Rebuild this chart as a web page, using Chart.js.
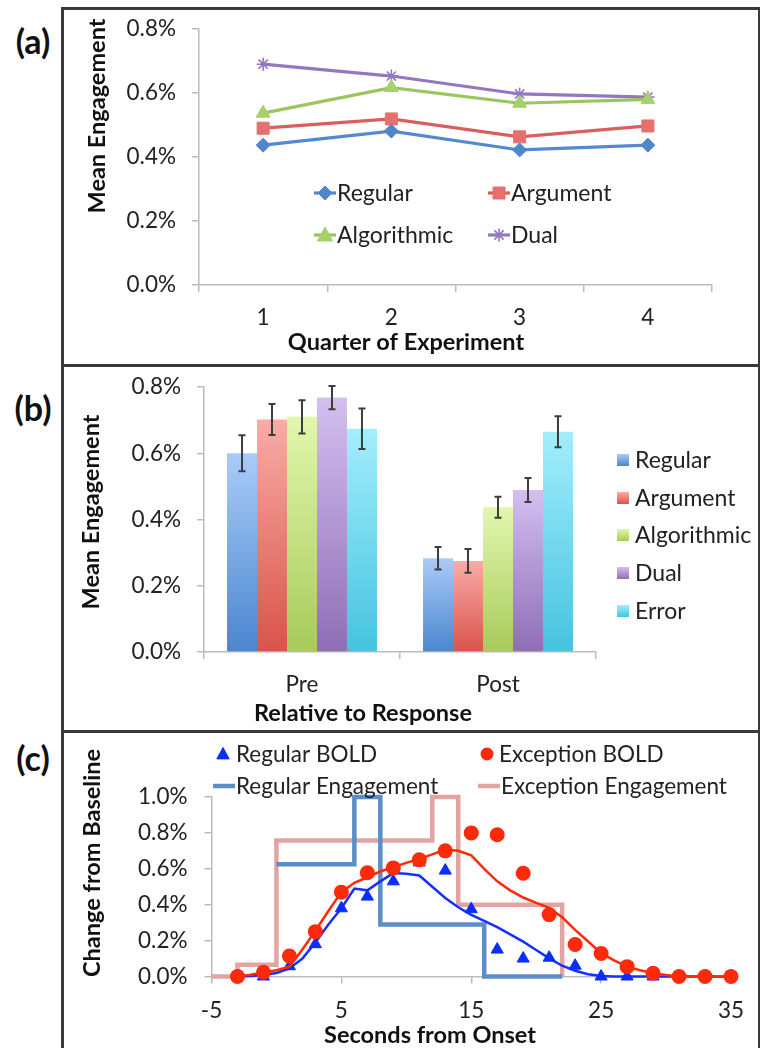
<!DOCTYPE html>
<html>
<head>
<meta charset="utf-8">
<script src="https://cdn.jsdelivr.net/npm/chart.js@4.4.1/dist/chart.umd.min.js"></script>
<style>
  html, body { margin: 0; padding: 0; background: #fff; }
  #page { position: relative; width: 760px; height: 1048px; overflow: hidden; font-family: Lato, sans-serif; }
  .frame { position: absolute; left: 61px; top: 7px; width: 694px; height: 1100px; border: 3px solid #3a3a3a; }
  .divider { position: absolute; left: 61px; width: 700px; height: 3px; background: #3a3a3a; }
  .tag { position: absolute; left: 8px; width: 50px; text-align: center; font: bold 34px Lato, sans-serif; color: #111; line-height: 40px; }
  canvas { position: absolute; }
</style>
</head>
<body>
<div id="page">
  <div class="frame"></div>
  <div class="divider" style="top:364px"></div>
  <div class="divider" style="top:730px"></div>
  <div class="tag" style="top:21px">(a)</div>
  <div class="tag" style="top:388px">(b)</div>
  <div class="tag" style="top:738px">(c)</div>
  <canvas id="chartA" width="692" height="354" style="left:64px;top:10px"></canvas>
  <canvas id="chartB" width="692" height="362" style="left:64px;top:368px"></canvas>
  <canvas id="chartC" width="692" height="314" style="left:64px;top:734px"></canvas>
</div>
<script>
// ---- (a) Mean engagement by quarter of the experiment (%)
const quarters = ['1', '2', '3', '4'];
const aRegular     = [0.437, 0.481, 0.422, 0.437];
const aArgument    = [0.490, 0.519, 0.463, 0.497];
const aAlgorithmic = [0.537, 0.617, 0.568, 0.580];
const aDual        = [0.690, 0.653, 0.597, 0.587];

// ---- (b) Mean engagement relative to the response (%), with error bars
const phases = ['Pre', 'Post'];
const bRegular        = [0.600, 0.283];
const bRegularErr     = [0.054, 0.034];
const bArgument       = [0.702, 0.275];
const bArgumentErr    = [0.047, 0.036];
const bAlgorithmic    = [0.710, 0.437];
const bAlgorithmicErr = [0.050, 0.032];
const bDual           = [0.768, 0.489];
const bDualErr        = [0.035, 0.036];
const bError          = [0.674, 0.665];
const bErrorErr       = [0.061, 0.047];

// ---- (c) BOLD response and engagement, change from baseline (%)
const boldSeconds   = [-3, -1, 1, 3, 5, 7, 9, 11, 13, 15, 17, 19, 21, 23, 25, 27, 29, 31, 33, 35];
const regularBold   = [0, 0, 0.057, 0.18, 0.38, 0.445, 0.53, 0.636, 0.59, 0.375, 0.15, 0.10, 0.105, 0.06, 0, 0, 0, 0, 0, 0];
const exceptionBold = [0, 0.024, 0.114, 0.25, 0.47, 0.578, 0.605, 0.65, 0.70, 0.80, 0.79, 0.575, 0.345, 0.178, 0.128, 0.055, 0.018, 0, 0, 0];
const fitSeconds    = [-3, -2, -1, 0, 1, 2, 3, 4, 5, 6, 7, 8, 9, 10, 11, 12, 13, 14, 15, 16, 17, 18, 19,
                       20, 21, 22, 23, 24, 25, 26, 27, 28, 29, 30, 31, 32, 33, 34, 35];
const regularFit    = [0, 0.003, 0.008, 0.02, 0.045, 0.10, 0.19, 0.29, 0.38, 0.49, 0.48, 0.53, 0.576, 0.572,
                       0.563, 0.50, 0.437, 0.386, 0.343, 0.31, 0.275, 0.235, 0.194, 0.148, 0.101, 0.06, 0.032,
                       0.013, 0.003, 0, 0, 0, 0, 0, 0, 0, 0, 0, 0];
const exceptionFit  = [0, 0.01, 0.022, 0.035, 0.055, 0.15, 0.255, 0.365, 0.47, 0.522, 0.553, 0.585, 0.61, 0.633,
                       0.655, 0.68, 0.707, 0.70, 0.675, 0.60, 0.53, 0.48, 0.44, 0.41, 0.383, 0.33, 0.26, 0.195,
                       0.13, 0.09, 0.055, 0.035, 0.018, 0.008, 0, 0, 0, 0, 0];
const regularEngSeconds   = [0, 6, 8, 16, 22];
const regularEngagement   = [0.625, 1.0, 0.29, 0, 0];
const exceptionEngSeconds = [-5, -3, 0, 12, 14, 22];
const exceptionEngagement = [0, 0.065, 0.757, 1.0, 0.40, 0];

// ---------------------------------------------------------------------------
const FONT = 'Lato, "Open Sans", sans-serif';
const TEXT = '#222';
const AXIS = '#bcbcbc';
Chart.defaults.font.family = FONT;
Chart.defaults.color = TEXT;
Chart.defaults.animation = false;
Chart.defaults.events = [];

const pct = v => v.toFixed(1) + '%';
const toPoints = (xs, ys) => xs.map((x, i) => ({ x, y: ys[i] }));

// marker shapes shared by the plotted points and the legends
function drawMarker(c, shape, x, y, r, fill, stroke, lw) {
  c.save();
  c.beginPath();
  c.fillStyle = fill; c.strokeStyle = stroke; c.lineWidth = lw || 1;
  if (shape === 'triangle') {
    c.moveTo(x, y - r); c.lineTo(x + r * 0.95, y + r * 0.75); c.lineTo(x - r * 0.95, y + r * 0.75); c.closePath();
    c.fill(); c.stroke();
  } else if (shape === 'circle') {
    c.arc(x, y, r, 0, Math.PI * 2); c.fill();
  } else if (shape === 'rectRot') {
    c.moveTo(x, y - r); c.lineTo(x + r, y); c.lineTo(x, y + r); c.lineTo(x - r, y); c.closePath();
    c.fill(); c.stroke();
  } else if (shape === 'rect') {
    const s = r * Math.SQRT1_2;
    c.rect(x - s, y - s, 2 * s, 2 * s); c.fill(); c.stroke();
  } else if (shape === 'star') {
    const d = r * Math.SQRT1_2;
    c.moveTo(x - d, y - d); c.lineTo(x + d, y + d);
    c.moveTo(x + d, y - d); c.lineTo(x - d, y + d);
    c.moveTo(x, y - r); c.lineTo(x, y + r);
    c.moveTo(x - r, y); c.lineTo(x + r, y);
    c.stroke();
  }
  c.restore();
}

// free text (axis titles) placed on the canvas
const panelText = {
  id: 'panelText',
  afterDraw(chart, args, opts) {
    const c = chart.ctx;
    (opts.items || []).forEach(t => {
      c.save();
      c.font = t.font; c.fillStyle = t.color || '#111';
      c.textAlign = 'center'; c.textBaseline = 'middle';
      c.translate(t.x, t.y);
      if (t.rot) c.rotate(t.rot);
      c.fillText(t.text, 0, 0);
      c.restore();
    });
  }
};

// legends drawn from each dataset's own label and style
const placedLegend = {
  id: 'placedLegend',
  afterDraw(chart, args, opts) {
    const c = chart.ctx;
    (opts.items || []).forEach(it => {
      const ds = chart.data.datasets[it.dataset];
      if (it.kind === 'lineMarker') {
        c.save(); c.strokeStyle = ds.borderColor; c.lineWidth = ds.borderWidth;
        c.beginPath(); c.moveTo(it.x - 11, it.y); c.lineTo(it.x + 11, it.y); c.stroke(); c.restore();
        drawMarker(c, ds.pointStyle, it.x, it.y, ds.pointRadius, ds.pointBackgroundColor, ds.pointBorderColor, ds.pointBorderWidth);
      } else if (it.kind === 'marker') {
        drawMarker(c, ds.pointStyle, it.x, it.y, it.r, ds.pointBackgroundColor, ds.pointBorderColor, 1);
      } else if (it.kind === 'line') {
        c.save(); c.strokeStyle = ds.borderColor; c.lineWidth = ds.borderWidth;
        c.beginPath(); c.moveTo(it.x - 22, it.y); c.lineTo(it.x, it.y); c.stroke(); c.restore();
      } else if (it.kind === 'box') {
        const g = c.createLinearGradient(0, it.y - 6, 0, it.y + 6);
        g.addColorStop(0, ds.gradTop); g.addColorStop(1, ds.gradBottom);
        c.save(); c.fillStyle = g; c.fillRect(it.x - 6, it.y - 6, 12, 12); c.restore();
      }
      c.save();
      c.font = opts.font; c.fillStyle = TEXT; c.textAlign = 'left'; c.textBaseline = 'middle';
      c.fillText(ds.label, it.tx, it.y + 1);
      c.restore();
    });
  }
};

// error bars on the bars of panel (b)
const errorBars = {
  id: 'errorBars',
  afterDatasetsDraw(chart) {
    const c = chart.ctx, y = chart.scales.y;
    chart.data.datasets.forEach((ds, i) => {
      chart.getDatasetMeta(i).data.forEach((bar, j) => {
        const v = ds.data[j], e = ds.errors[j];
        const yt = y.getPixelForValue(v + e), yb = y.getPixelForValue(v - e);
        c.save();
        c.strokeStyle = '#3d3d3d'; c.lineWidth = 2;
        c.beginPath();
        c.moveTo(bar.x, yt); c.lineTo(bar.x, yb);
        c.moveTo(bar.x - 3.5, yt); c.lineTo(bar.x + 3.5, yt);
        c.moveTo(bar.x - 3.5, yb); c.lineTo(bar.x + 3.5, yb);
        c.stroke();
        c.restore();
      });
    });
  }
};

// fixed scale sizes; label overhang padding removed so the plot area stays put
function fixSize(prop, size) {
  return s => { s[prop] = size; s.paddingTop = 0; s.paddingBottom = 0; s.paddingLeft = 0; s.paddingRight = 0; };
}
function axisStyle(extra) {
  return Object.assign({
    grid: { display: true, drawOnChartArea: false, drawTicks: true, tickLength: 7, color: AXIS, lineWidth: 1.5 },
    border: { display: true, color: AXIS, width: 1.5 }
  }, extra);
}
const tickFont = { size: 22.5, family: FONT };
const titleFont = 'bold 23.5px ' + FONT;
const legendFont = '23px ' + FONT;
const legendFontC = '22.5px ' + FONT;

// ======================= (a) =======================
function lineSet(label, data, line, fill, shape, r) {
  return {
    label, data, borderColor: line, borderWidth: 3.2, pointStyle: shape, pointRadius: r,
    pointBackgroundColor: fill, pointBorderColor: shape === 'star' ? line : fill, pointBorderWidth: shape === 'star' ? 1.6 : 1
  };
}
new Chart(document.getElementById('chartA'), {
  type: 'line',
  data: {
    labels: quarters,
    datasets: [
      lineSet('Regular', aRegular, '#5289d0', '#4f86cc', 'rectRot', 7),
      lineSet('Argument', aArgument, '#d8605c', '#e4716d', 'rect', 8.5),
      lineSet('Algorithmic', aAlgorithmic, '#9bc55d', '#a6d06a', 'triangle', 8),
      lineSet('Dual', aDual, '#9178bf', '#9178bf', 'star', 6.5)
    ]
  },
  options: {
    responsive: false,
    layout: { padding: { top: 19, right: 44, left: 0, bottom: 0 } },
    plugins: {
      legend: { display: false }, tooltip: { enabled: false },
      panelText: { items: [
        { text: 'Mean Engagement', x: 33, y: 106, rot: -Math.PI / 2, font: titleFont },
        { text: 'Quarter of Experiment', x: 342, y: 332, font: titleFont }
      ] },
      placedLegend: { font: legendFont, items: [
        { dataset: 0, kind: 'lineMarker', x: 261, y: 183, tx: 273 },
        { dataset: 1, kind: 'lineMarker', x: 435, y: 183, tx: 447 },
        { dataset: 2, kind: 'lineMarker', x: 261, y: 225, tx: 273 },
        { dataset: 3, kind: 'lineMarker', x: 435, y: 225, tx: 447 }
      ] }
    },
    scales: {
      x: axisStyle({ offset: true, grid: { display: true, offset: true, drawOnChartArea: false, tickLength: 7, color: AXIS, lineWidth: 1.5 },
        ticks: { font: tickFont, padding: 12, color: TEXT }, afterFit: fixSize('height', 79) }),
      y: axisStyle({ min: 0, max: 0.8, ticks: { stepSize: 0.2, font: tickFont, padding: 16, color: TEXT, callback: pct },
        afterFit: fixSize('width', 135) })
    }
  },
  plugins: [panelText, placedLegend]
});

// ======================= (b) =======================
function barGradient(top, bottom) {
  return ctx => {
    const chart = ctx.chart, y = chart.scales && chart.scales.y;
    if (ctx.type !== 'data' || !y) return bottom;
    const v = ctx.parsed && isFinite(ctx.parsed.y) ? ctx.parsed.y : ctx.raw;
    const y0 = y.getPixelForValue(v), y1 = y.getPixelForValue(0);
    if (!isFinite(y0) || !isFinite(y1)) return bottom;
    const g = chart.ctx.createLinearGradient(0, y0, 0, y1);
    g.addColorStop(0, top); g.addColorStop(1, bottom);
    return g;
  };
}
function barSet(label, data, errors, top, bottom) {
  return { label, data, errors, gradTop: top, gradBottom: bottom, backgroundColor: barGradient(top, bottom),
    borderWidth: 0, categoryPercentage: 0.765, barPercentage: 1.0 };
}
new Chart(document.getElementById('chartB'), {
  type: 'bar',
  data: {
    labels: phases,
    datasets: [
      barSet('Regular', bRegular, bRegularErr, '#aacbf8', '#4a86cf'),
      barSet('Argument', bArgument, bArgumentErr, '#f9aca6', '#d9534b'),
      barSet('Algorithmic', bAlgorithmic, bAlgorithmicErr, '#e2f7ad', '#a8ca5b'),
      barSet('Dual', bDual, bDualErr, '#d3bff0', '#8f6eb5'),
      barSet('Error', bError, bErrorErr, '#a3eefc', '#45c3df')
    ]
  },
  options: {
    responsive: false,
    layout: { padding: { top: 19, right: 160, left: 0, bottom: 0 } },
    plugins: {
      legend: { display: false }, tooltip: { enabled: false },
      panelText: { items: [
        { text: 'Mean Engagement', x: 27, y: 144, rot: -Math.PI / 2, font: titleFont },
        { text: 'Relative to Response', x: 299, y: 345, font: titleFont }
      ] },
      placedLegend: { font: legendFont, items: [
        { dataset: 0, kind: 'box', x: 559, y: 92, tx: 571 },
        { dataset: 1, kind: 'box', x: 559, y: 130, tx: 571 },
        { dataset: 2, kind: 'box', x: 559, y: 167, tx: 571 },
        { dataset: 3, kind: 'box', x: 559, y: 205, tx: 571 },
        { dataset: 4, kind: 'box', x: 559, y: 243, tx: 571 }
      ] }
    },
    scales: {
      x: axisStyle({ ticks: { font: tickFont, padding: 12, color: TEXT }, afterFit: fixSize('height', 78) }),
      y: axisStyle({ min: 0, max: 0.8, ticks: { stepSize: 0.2, font: tickFont, padding: 16, color: TEXT, callback: pct },
        afterFit: fixSize('width', 140) })
    }
  },
  plugins: [panelText, placedLegend, errorBars]
});

// ======================= (c) =======================
new Chart(document.getElementById('chartC'), {
  type: 'line',
  data: {
    datasets: [
      { label: 'Regular BOLD', data: toPoints(boldSeconds, regularBold), showLine: false, order: 2,
        pointStyle: 'triangle', pointRadius: 7, pointBackgroundColor: '#0b2dff', pointBorderColor: '#0b2dff', pointBorderWidth: 1 },
      { label: 'Exception BOLD', data: toPoints(boldSeconds, exceptionBold), showLine: false, order: 0,
        pointStyle: 'circle', pointRadius: 7.5, pointBackgroundColor: '#ff2a0a', pointBorderColor: '#ff2a0a', pointBorderWidth: 0 },
      { label: 'Regular Engagement', data: toPoints(regularEngSeconds, regularEngagement), stepped: true, order: 4,
        borderColor: '#5b8dc6', borderWidth: 4.5, pointRadius: 0, borderJoinStyle: 'miter', borderCapStyle: 'butt' },
      { label: 'Exception Engagement', data: toPoints(exceptionEngSeconds, exceptionEngagement), stepped: true, order: 5,
        borderColor: '#e2a4a2', borderWidth: 4.5, pointRadius: 0, borderJoinStyle: 'miter', borderCapStyle: 'butt' },
      { label: 'Regular fit', data: toPoints(fitSeconds, regularFit), order: 3,
        borderColor: '#1530ff', borderWidth: 2.5, pointRadius: 0 },
      { label: 'Exception fit', data: toPoints(fitSeconds, exceptionFit), order: 1,
        borderColor: '#ff2a0a', borderWidth: 2.5, pointRadius: 0 }
    ]
  },
  options: {
    responsive: false,
    clip: false,
    layout: { padding: { top: 63, right: 25, left: 0, bottom: 0 } },
    plugins: {
      legend: { display: false }, tooltip: { enabled: false },
      panelText: { items: [
        { text: 'Change from Baseline', x: 28, y: 129, rot: -Math.PI / 2, font: titleFont },
        { text: 'Seconds from Onset', x: 366, y: 301, font: titleFont }
      ] },
      placedLegend: { font: legendFontC, items: [
        { dataset: 0, kind: 'marker', r: 6.5, x: 159, y: 20, tx: 172 },
        { dataset: 1, kind: 'marker', r: 6.5, x: 423, y: 20, tx: 435 },
        { dataset: 2, kind: 'line', x: 171, y: 52, tx: 172 },
        { dataset: 3, kind: 'line', x: 436, y: 52, tx: 437 }
      ] }
    },
    scales: {
      x: axisStyle({ type: 'linear', min: -5, max: 35,
        ticks: { stepSize: 10, font: tickFont, padding: 14, color: TEXT }, afterFit: fixSize('height', 71.5) }),
      y: axisStyle({ min: 0, max: 1.0, ticks: { stepSize: 0.2, font: tickFont, padding: 17, color: TEXT, callback: pct },
        afterFit: fixSize('width', 147.5) })
    }
  },
  plugins: [panelText, placedLegend]
});
</script>
</body>
</html>
